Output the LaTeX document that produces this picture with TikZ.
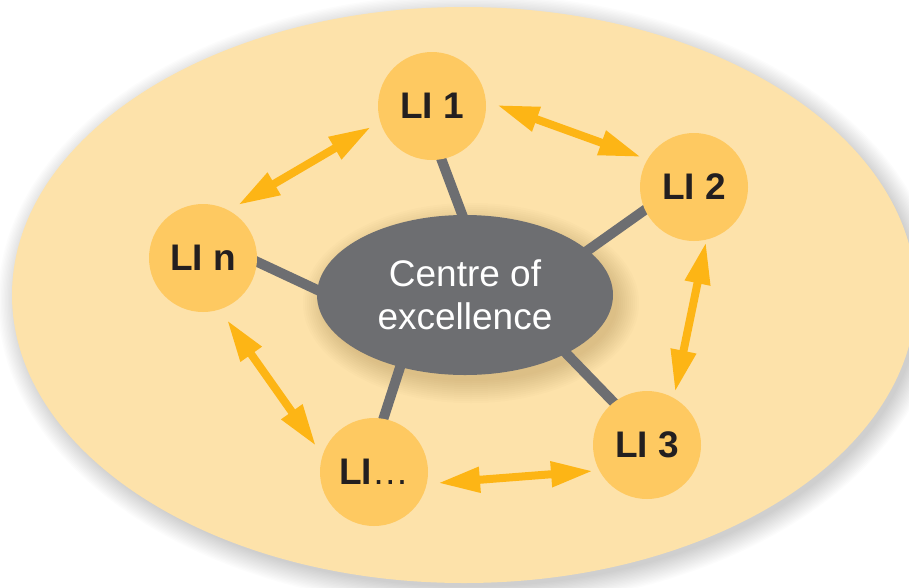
\documentclass[tikz,border=0pt]{standalone}
\usepackage{fontspec}
\setmainfont{Liberation Sans}
\usetikzlibrary{arrows.meta,shapes.geometric}
\pgfdeclarelayer{back}
\pgfdeclarelayer{mid}
\pgfsetlayers{back,mid,main}
\definecolor{bgfill}{HTML}{FDE2AA}
\definecolor{lifill}{HTML}{FEC961}
\definecolor{arrowor}{HTML}{FDB515}
\definecolor{spokegray}{HTML}{6D6E71}
\definecolor{litext}{HTML}{231F20}
\definecolor{shadowtan}{HTML}{9A7A40}
\begin{document}
\begin{tikzpicture}[x=1pt,y=-1pt,
  li/.style={circle,fill=lifill,minimum size=108pt,inner sep=0pt,
    font=\fontsize{37}{40}\selectfont\bfseries,text=litext},
  centre/.style={ellipse,fill=spokegray,minimum width=296pt,minimum height=160pt,
    inner sep=0pt,align=center,text=white,font=\fontsize{37}{43}\selectfont},
  spoke/.style={draw=spokegray,line width=10pt,shorten <=-6pt,shorten >=-6pt},
  link/.style={draw=arrowor,line width=8pt,
    {Triangle[length=42pt,width=24pt]}-{Triangle[length=42pt,width=24pt]}}]
\useasboundingbox (0,0) rectangle (909,587);

% background ellipse with soft shadow
\begin{pgfonlayer}{back}
  \fill[white] (0,0) rectangle (909,587);
  \foreach \i in {0,...,15}{
    \fill[black,opacity=0.011] (469,301) ellipse [x radius={450pt+\i*1.4pt}, y radius={286pt+\i*1.4pt}];
  }
  \fill[bgfill] (464,295) ellipse [x radius=452pt, y radius=288pt];
  \foreach \i in {0,...,11}{
    \fill[shadowtan,opacity=0.028] (471,303) ellipse [x radius={146pt+\i*2pt}, y radius={78pt+\i*2pt}];
  }
\end{pgfonlayer}

% nodes
\node[centre] (ce) at (465,295) {Centre of\\excellence};
\node[li] (li1) at (432,106) {LI 1};
\node[li] (li2) at (694,187) {LI 2};
\node[li] (li3) at (647,445) {LI 3};
\node[li] (lid) at (374,472) {LI{\mdseries\ldots}};
\node[li] (lin) at (203,258) {LI n};

% spokes
\begin{pgfonlayer}{mid}
  \draw[spoke] (li1.-80) -- (ce.92);
  \draw[spoke] (li2.205) -- (ce.20.5);
  \draw[spoke] (li3.128) -- (ce.-30);
  \draw[spoke] (lid.80) -- (ce.-132);
  \draw[spoke] (lin.-4) -- (ce.178);
\end{pgfonlayer}

% arrow ends
\coordinate (a1s) at (238,205);
\coordinate (a1e) at (371,127);
\coordinate (a2s) at (497,105);
\coordinate (a2e) at (641,157);
\coordinate (a3s) at (706,242);
\coordinate (a3e) at (675,392);
\coordinate (a4s) at (593,471);
\coordinate (a4e) at (438,483);
\coordinate (a5s) at (227,320);
\coordinate (a5e) at (316,446);

\draw[link] (a1s) -- (a1e);
\draw[link] (a2s) -- (a2e);
\draw[link] (a3s) -- (a3e);
\draw[link] (a4s) -- (a4e);
\draw[link] (a5s) -- (a5e);
\end{tikzpicture}
\end{document}
